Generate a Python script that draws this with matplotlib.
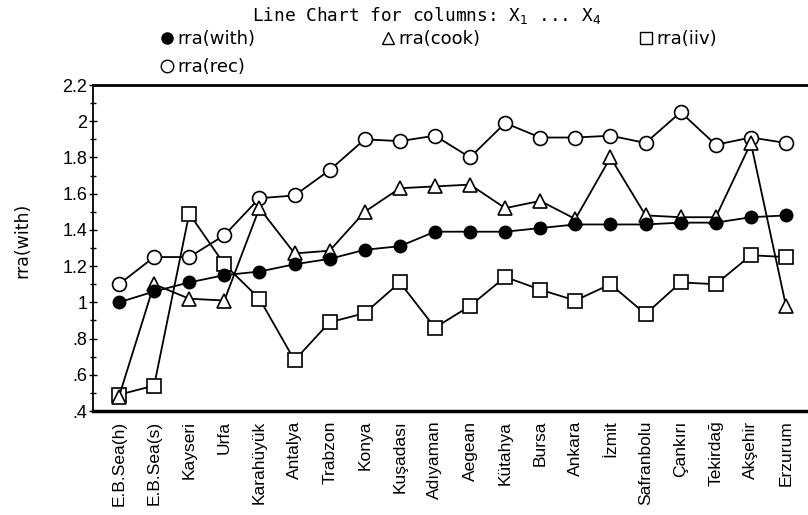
import matplotlib
matplotlib.use("Agg")
import matplotlib.pyplot as plt
from matplotlib.lines import Line2D
from matplotlib.ticker import MultipleLocator, FixedLocator, FixedFormatter
import numpy as np

categories = ["E.B.Sea(h)", "E.B.Sea(s)", "Kayseri", "Urfa", "Karahüyük", "Antalya",
              "Trabzon", "Konya", "Kuşadası", "Adıyaman", "Aegean", "Kütahya", "Bursa",
              "Ankara", "İzmit", "Safranbolu", "Çankırı", "Tekirdağ", "Akşehir", "Erzurum"]

rra_with = [1.00, 1.06, 1.11, 1.15, 1.17, 1.21, 1.24, 1.29, 1.31, 1.39, 1.39, 1.39, 1.41,
            1.43, 1.43, 1.43, 1.44, 1.44, 1.47, 1.48]
rra_cook = [0.48, 1.10, 1.02, 1.01, 1.52, 1.27, 1.285, 1.50, 1.63, 1.64, 1.65, 1.52, 1.56,
            1.46, 1.80, 1.48, 1.47, 1.47, 1.88, 0.98]
rra_iiv = [0.49, 0.54, 1.49, 1.21, 1.02, 0.68, 0.89, 0.94, 1.11, 0.86, 0.98, 1.14, 1.07,
           1.01, 1.10, 0.935, 1.11, 1.10, 1.26, 1.25]
rra_rec = [1.10, 1.25, 1.25, 1.37, 1.575, 1.59, 1.73, 1.90, 1.89, 1.92, 1.80, 1.99, 1.91,
           1.91, 1.92, 1.88, 2.05, 1.87, 1.91, 1.88]

y_ticks = [0.4, 0.6, 0.8, 1.0, 1.2, 1.4, 1.6, 1.8, 2.0, 2.2]
y_ticklabels = [".4", ".6", ".8", "1", "1.2", "1.4", "1.6", "1.8", "2", "2.2"]

W, H = 808, 515
fig = plt.figure(figsize=(W / 100, H / 100), dpi=100)
ax = fig.add_axes([93 / W, 1 - 411 / H, (808 - 93) / W, (411 - 85) / H])

x = np.arange(len(categories))
lw = 1.3
ax.plot(x, rra_with, color="black", lw=lw, marker="o", ms=9, mfc="black", mec="black", zorder=5)
ax.plot(x, rra_cook, color="black", lw=lw, marker="^", ms=10, mfc="white", mec="black", mew=1.2, zorder=4)
ax.plot(x, rra_iiv, color="black", lw=lw, marker="s", ms=10, mfc="white", mec="black", mew=1.2, zorder=3)
ax.plot(x, rra_rec, color="black", lw=lw, marker="o", ms=10, mfc="white", mec="black", mew=1.2, zorder=3)

ax.set_xlim((93 - 119) / 35.1, 19 + (808 - 786) / 35.1)
ax.set_ylim(0.4, 2.2)
ax.yaxis.set_major_locator(FixedLocator(y_ticks))
ax.yaxis.set_major_formatter(FixedFormatter(y_ticklabels))
ax.yaxis.set_minor_locator(MultipleLocator(0.1))
ax.tick_params(axis="y", which="major", direction="inout", length=6, width=1.0, pad=1,
               labelsize=13, labelfontfamily="Liberation Sans")
ax.tick_params(axis="y", which="minor", direction="inout", length=4, width=1.0)

ax.set_xticks(x)
ax.set_xticklabels(categories, rotation=90, fontsize=12.5, family="Liberation Sans")
ax.tick_params(axis="x", length=0, pad=7)

ax.spines["right"].set_visible(False)
ax.spines["top"].set_linewidth(2.0)
ax.spines["bottom"].set_linewidth(2.5)
ax.spines["left"].set_linewidth(1.3)

fig.text(22 / W, 1 - 240 / H, "rra(with)", rotation=90, ha="center", va="center",
         fontsize=12.5, family="DejaVu Sans")

fig.text(427 / W, 1 - 15 / H, r"Line Chart for columns: X$_1$ ... X$_4$", ha="center", va="center",
         fontsize=12.8, family="DejaVu Sans Mono")

legend_items = [
    ("rra(with)", dict(marker="o", ms=8, mfc="black", mec="black"), 167, 39),
    ("rra(cook)", dict(marker="^", ms=9, mfc="white", mec="black"), 388, 39),
    ("rra(iiv)", dict(marker="s", ms=9, mfc="white", mec="black"), 646, 39),
    ("rra(rec)", dict(marker="o", ms=9, mfc="white", mec="black"), 167, 67),
]
for label, style, mx, my in legend_items:
    h = Line2D([], [], linestyle="none", **style)
    fs = 13
    hl = 0.8
    x0 = mx - hl * fs * 100 / 72 / 2
    fig.legend([h], [label], loc="center left", bbox_to_anchor=(x0 / W, 1 - my / H),
               frameon=False, borderpad=0, borderaxespad=0, handlelength=hl,
               handletextpad=0.2, prop={"family": "DejaVu Sans", "size": fs})

fig.savefig("out.png", dpi=100)
